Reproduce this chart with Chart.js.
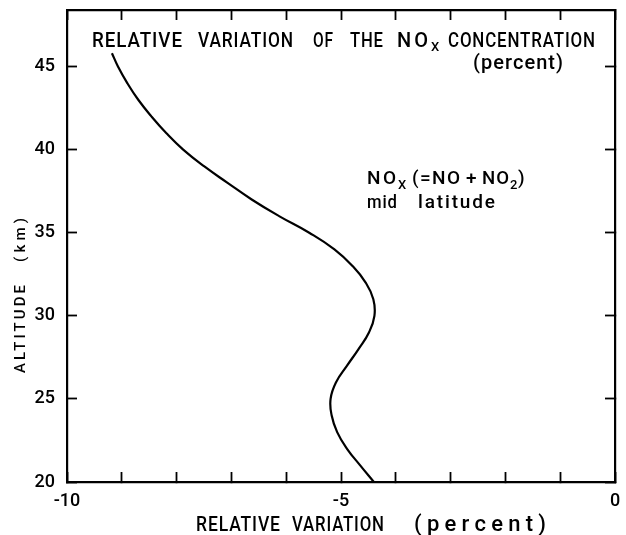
<!DOCTYPE html>
<html>
<head>
<meta charset="utf-8">
<script src="https://cdn.jsdelivr.net/npm/chart.js@4"></script>
<style>
  html, body { margin: 0; padding: 0; background: #fff; }
</style>
</head>
<body>
<canvas id="chart" width="626" height="535"></canvas>
<script>
// altitude (km) and relative variation of NOx (percent)
const altitude = [20, 21, 22, 23, 24, 25, 26, 27, 28, 29, 30, 31, 32, 33, 34, 35, 36, 37, 38, 39, 40, 41, 42, 43, 44, 45, 45.8];
const variation = [-4.40, -4.65, -4.89, -5.07, -5.17, -5.19, -5.09, -4.89, -4.68, -4.49, -4.39, -4.41, -4.55, -4.79, -5.12, -5.58, -6.13, -6.63, -7.07, -7.50, -7.88, -8.19, -8.46, -8.70, -8.90, -9.07, -9.18];
const xLabels = [-10, -5, 0];
const yLabels = [20, 25, 30, 35, 40, 45];

const FONT = 'Roboto, "DejaVu Sans", sans-serif';

// draws a string to cover x0..x1: squeezed if too wide, letter-spaced if too narrow
function fitText(ctx, str, x0, x1, y) {
    ctx.letterSpacing = '1px';
    const nat = ctx.measureText(str).width - 1;
    const w = x1 - x0;
    ctx.save();
    ctx.translate(x0, y);
    if (nat > w || str.length < 2) {
        ctx.scale(w / nat, 1);
    } else {
        ctx.letterSpacing = (1 + (w - nat) / (str.length - 1)) + 'px';
    }
    ctx.fillText(str, 0, 0);
    ctx.restore();
    ctx.letterSpacing = '0px';
}

const textPlugin = {
    id: 'texts',
    afterDraw(chart) {
        const ctx = chart.ctx;
        ctx.save();
        ctx.fillStyle = '#000';
        ctx.textAlign = 'left';
        ctx.textBaseline = 'alphabetic';

        // title inside the plot
        ctx.font = '500 20px ' + FONT;
        fitText(ctx, 'RELATIVE', 92, 182, 47);
        fitText(ctx, 'VARIATION', 198, 293, 47);
        fitText(ctx, 'OF', 313, 333, 47);
        fitText(ctx, 'THE', 350, 383, 47);
        fitText(ctx, 'NO', 397, 428, 47);
        fitText(ctx, 'CONCENTRATION', 448, 595, 47);
        fitText(ctx, '(percent)', 473, 563, 69);
        ctx.font = '500 13px ' + FONT;
        ctx.fillText('X', 431, 51);

        // annotation
        ctx.font = '500 19px ' + FONT;
        fitText(ctx, 'NO', 367, 396, 184);
        fitText(ctx, '(=NO', 412, 460, 184);
        ctx.fillText('+', 466, 184);
        fitText(ctx, 'NO', 482, 509, 184);
        ctx.fillText(')', 518, 184);
        fitText(ctx, 'mid', 367, 397, 208);
        fitText(ctx, 'latitude', 418, 495, 208);
        ctx.font = '500 13px ' + FONT;
        ctx.fillText('X', 398, 189);
        ctx.fillText('2', 510, 189);

        // x axis title
        ctx.font = '500 20px ' + FONT;
        fitText(ctx, 'RELATIVE', 196, 280, 531);
        fitText(ctx, 'VARIATION', 292, 384, 531);
        ctx.font = '500 22px ' + FONT;
        fitText(ctx, '(percent)', 414, 546, 531);

        // y axis title
        ctx.translate(25, 373);
        ctx.rotate(-Math.PI / 2);
        ctx.font = '500 15px ' + FONT;
        fitText(ctx, 'ALTITUDE', 0, 88, 0);
        fitText(ctx, '(km)', 111, 155, 0);
        ctx.restore();
    }
};

const tickGrid = {
    drawOnChartArea: false,
    drawTicks: true,
    tickLength: -10,
    tickWidth: 1.8,
    tickColor: '#000',
    color: '#000'
};
const frame = { display: true, color: '#000', width: 2.2 };
const tickFont = { family: FONT, size: 18, weight: '500' };

// fixed axis thickness, no extra label padding
function fixSize(prop, size) {
    return s => {
        s[prop] = size;
        s.paddingTop = 0;
        s.paddingBottom = 0;
        s.paddingLeft = 0;
        s.paddingRight = 0;
    };
}

new Chart(document.getElementById('chart'), {
    type: 'scatter',
    data: {
        datasets: [{
            data: altitude.map((a, i) => ({ x: variation[i], y: a })),
            showLine: true,
            borderColor: '#000',
            borderWidth: 2.2,
            pointRadius: 0,
            tension: 0.45,
            fill: false
        }]
    },
    options: {
        responsive: false,
        animation: false,
        devicePixelRatio: 1,
        layout: { padding: 0, autoPadding: false },
        plugins: { legend: { display: false }, tooltip: { enabled: false } },
        scales: {
            x: {
                type: 'linear', position: 'bottom', min: -10, max: 0,
                grid: tickGrid, border: frame,
                ticks: {
                    stepSize: 1, autoSkip: false, maxRotation: 0, padding: 19,
                    color: '#000', font: tickFont,
                    callback: v => xLabels.includes(v) ? (v < 0 ? '-' + Math.abs(v) : String(v)) : ''
                },
                afterFit: fixSize('height', 53)
            },
            x2: {
                type: 'linear', position: 'top', min: -10, max: 0,
                grid: tickGrid, border: frame,
                ticks: { display: false, stepSize: 1 },
                afterFit: fixSize('height', 10)
            },
            y: {
                type: 'linear', position: 'left', min: 20, max: 48.4,
                grid: tickGrid, border: frame,
                ticks: {
                    stepSize: 5, includeBounds: false, padding: 22,
                    color: '#000', font: tickFont,
                    callback: v => yLabels.includes(v) ? String(v) : ''
                },
                afterFit: fixSize('width', 67)
            },
            y2: {
                type: 'linear', position: 'right', min: 20, max: 48.4,
                grid: tickGrid, border: frame,
                ticks: { display: false, stepSize: 5, includeBounds: false },
                afterFit: fixSize('width', 11)
            }
        }
    },
    plugins: [textPlugin]
});
</script>
</body>
</html>
